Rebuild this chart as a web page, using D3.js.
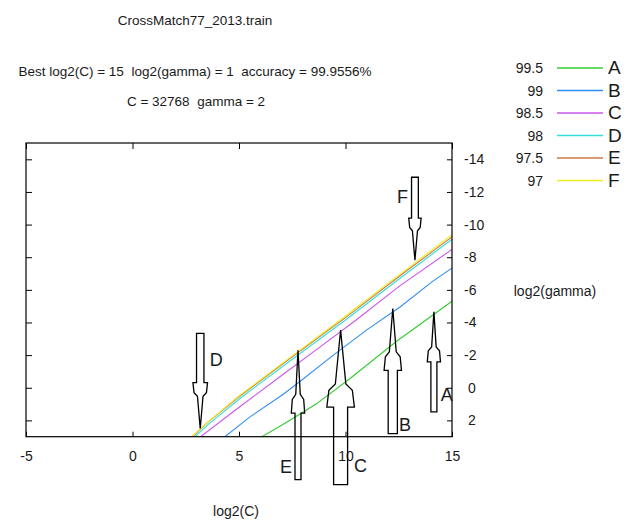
<!DOCTYPE html>
<html><head><meta charset="utf-8">
<script src="https://cdn.jsdelivr.net/npm/d3@7/dist/d3.min.js"></script>
<style>
body{margin:0;background:#fff}
text{font-family:"Liberation Sans",Arial,Helvetica,sans-serif;fill:#1a1a1a;white-space:pre}
</style>
</head><body>
<svg id="chart" width="634" height="520"></svg>
<script>
// ---------------- data ----------------
const titleText = "CrossMatch77_2013.train";
const bestLine1 = "Best log2(C) = 15  log2(gamma) = 1  accuracy = 99.9556%";
const bestLine2 = "C = 32768  gamma = 2";
const xLabel = "log2(C)";
const yLabel = "log2(gamma)";

const levels  = [99.5, 99, 98.5, 98, 97.5, 97];
const letters = ["A", "B", "C", "D", "E", "F"];

const xTicks = [-5, 0, 5, 10, 15];
const yTicks = [-14, -12, -10, -8, -6, -4, -2, 0, 2];

// contour lines: [log2(C), log2(gamma)]
const contourA = [[6.07,3],[7.0,2.3],[8.0,1.5],[8.65,0.97],[10.2,-0.55],[12.4,-2.85],[15,-5.3]];
const contourB = [[4.34,3],[5.5,1.8],[7.08,0.4],[7.86,-0.38],[9.43,-2.0],[11.0,-3.55],[12.56,-4.95],[14.12,-6.55],[15,-7.33]];
const contourC = [[3.2,3],[5.05,1.15],[7.0,-0.75],[8.65,-2.35],[10.5,-4.15],[12.5,-6.2],[15,-8.48]];
const contourD = [[2.93,3],[3.6,2.2],[5.1,0.6],[7.5,-1.75],[10.0,-4.15],[12.5,-6.65],[15,-9.1]];
const contourE = [[2.82,3],[3.5,2.15],[5.0,0.55],[7.5,-1.9],[10.0,-4.3],[12.5,-6.8],[15,-9.25]];
const contourF = [[2.78,3],[3.45,2.2],[5.0,0.5],[7.5,-1.95],[10.0,-4.4],[12.5,-6.9],[15,-9.38]];
const contours = [contourA, contourB, contourC, contourD, contourE, contourF];

// arrow annotations (data coordinates)
const arrowLetters = ["F", "D", "E", "C", "B", "A"];
const arrowC       = [13.26, 3.18, 7.77, 9.77, 12.22, 14.15];
const arrowTail    = [-12.9, -3.33, 5.63, 5.94, 2.81, 1.48];
const arrowTip     = [-7.82, 2.5, -2.3, -3.53, -4.86, -4.65];
const arrowLabelC  = [12.68, 3.93, 7.21, 10.70, 12.79, 14.75];
const arrowLabelG  = [-11.71, -1.69, 4.88, 4.82, 2.27, 0.46];

// ---------------- styles ----------------
const colors = ["#33cc33", "#2f8ff5", "#cc55ee", "#33dddd", "#cc7744", "#eeee22"];
// per-arrow drawing sizes in px: head length, head half width, shaft half width
const arrowStyle = {
  F: {head: 42, hw: 6.2, sw: 3.4},
  D: {head: 46, hw: 7.3, sw: 3.7},
  E: {head: 63, hw: 6.7, sw: 3.0},
  C: {head: 77, hw: 13.8, sw: 7.0},
  B: {head: 62, hw: 8.7, sw: 4.6},
  A: {head: 50, hw: 6.6, sw: 3.0}
};

// ---------------- drawing ----------------
const svg = d3.select("#chart");
const x = d3.scaleLinear().domain([-5, 15]).range([26, 452]);
const y = d3.scaleLinear().domain([-15, 3]).range([143, 436.7]);
const fmt = d => String(d); // plain hyphen-minus like the reference

// titles
svg.append("text").attr("x", 195).attr("y", 25).attr("text-anchor", "middle")
  .attr("font-size", 13.5).text(titleText);
svg.append("text").attr("x", 195).attr("y", 75.5).attr("text-anchor", "middle")
  .attr("font-size", 13.5).text(bestLine1);
svg.append("text").attr("x", 196).attr("y", 106).attr("text-anchor", "middle")
  .attr("font-size", 13.5).text(bestLine2);

// contour lines
const line = d3.line().x(d => x(d[0])).y(d => y(d[1]));
const plot = svg.append("g");
plot.append("defs").append("clipPath").attr("id", "clip")
  .append("rect").attr("x", x(-5)).attr("y", y(-15))
  .attr("width", x(15) - x(-5)).attr("height", y(3) - y(-15));
const lines = plot.append("g").attr("clip-path", "url(#clip)");
[3, 4, 5, 2, 1, 0].forEach(i => {
  lines.append("path").datum(contours[i])
    .attr("fill", "none").attr("stroke", colors[i]).attr("stroke-width", 1.1)
    .attr("d", line);
});

// frame
svg.append("rect").attr("x", x(-5)).attr("y", y(-15))
  .attr("width", x(15) - x(-5)).attr("height", y(3) - y(-15))
  .attr("fill", "none").attr("stroke", "#000").attr("stroke-width", 1.2);

// x axis (bottom) with inner ticks, mirrored ticks on top
const xAxisB = d3.axisBottom(x).tickValues(xTicks).tickSize(-5).tickPadding(14).tickFormat(fmt);
const gxb = svg.append("g").attr("transform", `translate(0,${y(3)})`).call(xAxisB);
gxb.select(".domain").remove();
gxb.selectAll("line").attr("stroke", "#000");
gxb.selectAll("text").attr("font-size", 14).attr("fill", "#1a1a1a").attr("font-family", "Liberation Sans, Arial, sans-serif");
const gxt = svg.append("g").attr("transform", `translate(0,${y(-15)})`)
  .call(d3.axisTop(x).tickValues(xTicks).tickSize(-6).tickFormat(""));
gxt.select(".domain").remove();
gxt.selectAll("line").attr("stroke", "#000");

// y axis on right with inner ticks, mirrored ticks on left
const gyr = svg.append("g").attr("transform", `translate(${x(15)},0)`)
  .call(d3.axisRight(y).tickValues(yTicks).tickSize(-5).tickPadding(12).tickFormat(fmt));
gyr.select(".domain").remove();
gyr.selectAll("line").attr("stroke", "#000");
gyr.selectAll("text").attr("font-size", 14).attr("fill", "#1a1a1a")
  .attr("font-family", "Liberation Sans, Arial, sans-serif")
  .attr("dx", d => d >= 0 ? 4 : 0);
const gyl = svg.append("g").attr("transform", `translate(${x(-5)},0)`)
  .call(d3.axisLeft(y).tickValues(yTicks).tickSize(-6).tickFormat(""));
gyl.select(".domain").remove();
gyl.selectAll("line").attr("stroke", "#000");

// axis labels
svg.append("text").attr("x", 236).attr("y", 515.5).attr("text-anchor", "middle")
  .attr("font-size", 14).text(xLabel);
svg.append("text").attr("x", 555).attr("y", 295.5).attr("text-anchor", "middle")
  .attr("font-size", 14).text(yLabel);

// arrows
const ag = svg.append("g");
arrowLetters.forEach((L, i) => {
  const st = arrowStyle[L];
  const cx = x(arrowC[i]);
  const tipY = y(arrowTip[i]);
  const tailY = y(arrowTail[i]);
  const dir = tailY > tipY ? 1 : -1; // +1: arrow points up (tail below)
  const len = Math.abs(tailY - tipY);
  const H = st.head, W = st.hw, S = st.sw, N = S * 0.75;
  const pts = [
    [0, 0], [N, 0.7 * H], [W * 0.85, 0.78 * H], [W, H], [S, H], [S, len],
    [-S, len], [-S, H], [-W, H], [-W * 0.85, 0.78 * H], [-N, 0.7 * H]
  ].map(p => [cx + p[0], tipY + dir * p[1]]);
  ag.append("path").attr("d", d3.line()(pts) + "Z")
    .attr("fill", "none").attr("stroke", "#000").attr("stroke-width", 1.3)
    .attr("stroke-linejoin", "miter");
  ag.append("text").attr("x", x(arrowLabelC[i])).attr("y", y(arrowLabelG[i]))
    .attr("text-anchor", "middle").attr("dominant-baseline", "central")
    .attr("font-size", 18).text(L);
});

// legend
const lg = svg.append("g");
levels.forEach((v, i) => {
  const yy = 68 + i * 22.5;
  lg.append("text").attr("x", 543).attr("y", yy).attr("text-anchor", "end")
    .attr("dominant-baseline", "central").attr("font-size", 14).text(v);
  lg.append("line").attr("x1", 557).attr("x2", 603).attr("y1", yy).attr("y2", yy)
    .attr("stroke", colors[i]).attr("stroke-width", 1.4);
  lg.append("text").attr("x", 608).attr("y", yy - 0.5)
    .attr("dominant-baseline", "central").attr("font-size", 19).text(letters[i]);
});
</script>
</body></html>
